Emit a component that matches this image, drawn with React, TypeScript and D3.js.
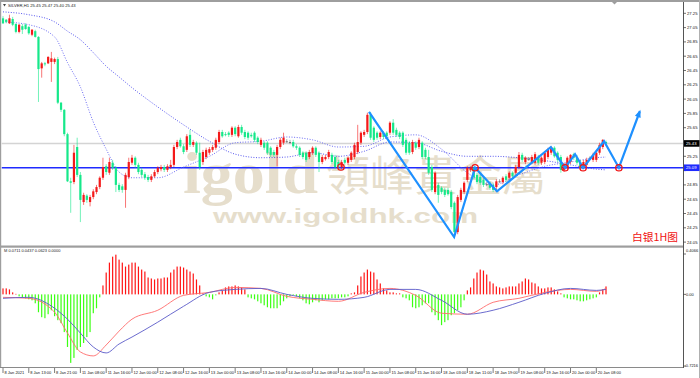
import React from 'react';
import * as d3 from 'd3';

const W = 700;
const H = 378;

// ---- OHLC data (SILVER H1) ----
const openP = [27.18,27.16,27.11,27.17,27.10,26.99,27.07,27.09,27.06,26.95,27.00,26.92,26.48,26.55,26.55,26.57,26.57,26.61,26.00,25.90,25.56,24.90,24.89,25.38,24.99,24.61,24.70,24.61,24.68,24.75,24.82,24.95,25.11,25.02,25.16,25.09,24.85,24.83,24.78,24.96,25.16,25.23,25.13,25.06,25.00,24.96,24.92,24.97,25.03,25.07,25.10,25.06,25.10,25.13,25.38,25.48,25.39,25.34,25.55,25.41,25.44,25.30,25.17,25.24,25.30,25.34,25.37,25.45,25.59,25.56,25.58,25.55,25.65,25.53,25.66,25.59,25.58,25.55,25.58,25.51,25.41,25.44,25.44,25.37,25.31,25.27,25.38,25.44,25.46,25.45,25.45,25.39,25.37,25.30,25.30,25.24,25.30,25.37,25.30,25.17,25.21,25.24,25.27,25.24,25.17,25.10,25.20,25.16,25.20,25.24,25.31,25.44,25.55,25.59,25.83,25.65,25.58,25.52,25.58,25.58,25.58,25.72,25.62,25.58,25.58,25.48,25.44,25.31,25.44,25.38,25.44,25.34,25.24,25.10,24.75,24.85,24.81,24.78,24.78,24.75,24.60,24.19,24.64,24.75,24.92,25.06,25.09,24.99,24.96,24.92,24.86,24.88,24.85,24.82,24.90,24.89,24.97,24.95,25.02,25.02,25.10,25.27,25.17,25.21,25.17,25.16,25.24,25.16,25.17,25.24,25.30,25.37,25.30,25.24,25.06,25.10,25.17,25.28,25.24,25.17,25.10,25.13,25.23,25.20,25.20,25.30,25.38,25.45];
const highP = [27.21,27.17,27.23,27.20,27.11,27.10,27.10,27.11,27.07,27.03,27.02,26.93,26.57,26.57,26.65,26.71,26.63,26.64,26.01,25.91,25.58,24.95,25.41,25.51,25.03,24.74,24.72,24.71,24.79,24.85,24.97,25.23,25.14,25.23,25.20,25.11,24.88,24.86,25.02,25.23,25.27,25.25,25.16,25.09,25.03,24.99,25.00,25.06,25.11,25.13,25.13,25.14,25.20,25.41,25.48,25.51,25.42,25.56,25.62,25.48,25.46,25.44,25.34,25.37,25.38,25.41,25.51,25.62,25.62,25.59,25.60,25.67,25.67,25.69,25.69,25.62,25.60,25.58,25.60,25.53,25.51,25.46,25.46,25.39,25.34,25.41,25.51,25.58,25.49,25.48,25.48,25.42,25.39,25.32,25.32,25.34,25.39,25.39,25.32,25.27,25.27,25.34,25.30,25.27,25.20,25.20,25.23,25.25,25.32,25.44,25.69,25.60,25.62,25.86,25.87,25.67,25.60,25.60,25.60,25.60,25.74,25.77,25.65,25.60,25.60,25.51,25.46,25.48,25.46,25.51,25.46,25.37,25.34,25.13,25.04,24.88,24.83,24.81,24.81,24.78,24.62,24.71,24.81,24.90,25.11,25.11,25.11,25.02,24.99,24.95,24.89,24.90,24.88,24.93,24.93,24.97,25.00,25.04,25.04,25.13,25.31,25.30,25.25,25.24,25.27,25.31,25.27,25.25,25.32,25.37,25.39,25.39,25.32,25.27,25.16,25.25,25.28,25.30,25.27,25.20,25.20,25.23,25.25,25.30,25.32,25.44,25.49,25.47];
const lowP = [27.10,27.11,27.10,27.07,26.97,26.97,26.96,27.02,26.95,26.93,26.91,26.01,26.35,26.51,26.54,26.29,26.54,25.98,25.87,25.53,24.89,24.46,24.86,24.96,24.33,24.57,24.60,24.55,24.65,24.72,24.79,24.92,24.99,24.99,25.06,24.75,24.75,24.74,24.53,24.93,25.13,25.09,25.00,24.96,24.92,24.89,24.89,24.95,25.00,25.04,25.03,25.03,25.07,25.10,25.35,25.37,25.28,25.31,25.38,25.38,25.27,25.06,25.13,25.21,25.27,25.31,25.34,25.42,25.51,25.53,25.52,25.52,25.53,25.51,25.55,25.49,25.48,25.51,25.45,25.42,25.38,25.34,25.27,25.24,25.24,25.11,25.35,25.41,25.44,25.42,25.37,25.34,25.24,25.21,25.17,25.21,25.27,25.24,25.03,25.14,25.19,25.21,25.14,25.07,25.07,25.07,25.13,25.13,25.17,25.21,25.28,25.41,25.52,25.56,25.48,25.45,25.48,25.49,25.49,25.51,25.55,25.55,25.52,25.49,25.38,25.27,25.27,25.28,25.34,25.35,25.21,25.21,24.99,24.75,24.72,24.60,24.72,24.68,24.70,24.51,24.14,24.16,24.61,24.72,24.89,25.03,24.93,24.86,24.85,24.82,24.83,24.78,24.75,24.76,24.88,24.86,24.89,24.92,24.95,24.99,25.07,25.17,25.14,25.19,25.14,25.13,25.13,25.13,25.14,25.21,25.27,25.23,25.17,25.02,25.03,25.07,25.14,25.20,25.13,25.07,25.07,25.10,25.20,25.17,25.17,25.27,25.35,25.40];
const closeP = [27.11,27.13,27.18,27.09,26.99,27.09,27.02,27.03,26.97,27.02,26.92,26.47,26.55,26.54,26.64,26.62,26.61,26.00,25.90,25.56,24.90,24.88,25.30,24.99,24.64,24.71,24.64,24.68,24.76,24.82,24.95,25.10,25.03,25.17,25.09,24.85,24.78,24.78,24.99,25.17,25.23,25.13,25.03,24.99,24.95,24.92,24.97,25.03,25.09,25.10,25.06,25.11,25.13,25.38,25.45,25.39,25.31,25.53,25.41,25.45,25.30,25.10,25.31,25.34,25.35,25.38,25.48,25.59,25.53,25.55,25.55,25.65,25.56,25.66,25.58,25.52,25.51,25.53,25.48,25.45,25.48,25.37,25.30,25.27,25.27,25.38,25.48,25.51,25.46,25.45,25.39,25.37,25.27,25.24,25.20,25.31,25.37,25.27,25.17,25.24,25.24,25.31,25.17,25.10,25.10,25.17,25.16,25.23,25.30,25.41,25.45,25.58,25.59,25.83,25.51,25.48,25.51,25.58,25.52,25.53,25.72,25.58,25.55,25.52,25.41,25.30,25.30,25.45,25.37,25.48,25.24,25.24,25.02,24.78,25.02,24.71,24.75,24.71,24.72,24.54,24.19,24.68,24.78,24.88,25.09,25.09,24.96,24.89,24.88,24.85,24.86,24.81,24.78,24.90,24.90,24.95,24.92,25.02,24.97,25.10,25.27,25.20,25.23,25.21,25.24,25.28,25.16,25.23,25.30,25.34,25.38,25.25,25.20,25.06,25.13,25.23,25.27,25.23,25.16,25.09,25.17,25.20,25.23,25.27,25.30,25.41,25.48,25.43];

// ---- MACD histogram (one value per bar) ----
const macdHist = [0.06,0.06,0.05,0.02,0.005,-0.02,-0.03,-0.04,-0.05,-0.06,-0.09,-0.18,-0.23,-0.24,-0.20,-0.16,-0.22,-0.26,-0.29,-0.38,-0.53,-0.69,-0.64,-0.56,-0.53,-0.49,-0.43,-0.38,-0.19,-0.14,-0.03,0.09,0.22,0.32,0.38,0.40,0.35,0.32,0.28,0.30,0.32,0.32,0.28,0.25,0.23,0.17,0.16,0.15,0.16,0.16,0.17,0.17,0.22,0.25,0.28,0.28,0.27,0.25,0.23,0.21,0.15,0.09,0.01,-0.02,-0.03,-0.05,-0.01,0.02,0.04,0.07,0.08,0.08,0.09,0.08,0.07,0.05,-0.03,-0.04,-0.05,-0.07,-0.09,-0.11,-0.13,-0.14,-0.14,-0.14,-0.11,-0.07,-0.04,-0.02,-0.01,-0.02,-0.04,-0.06,-0.09,-0.10,-0.08,-0.06,-0.08,-0.06,-0.05,-0.05,-0.04,-0.04,-0.04,-0.03,-0.03,-0.02,0.01,0.02,0.09,0.18,0.22,0.25,0.23,0.22,0.15,0.11,0.06,0.04,0.02,0.02,0.01,0.01,-0.03,-0.04,-0.06,-0.13,-0.14,-0.13,-0.11,-0.09,-0.09,-0.18,-0.21,-0.26,-0.31,-0.28,-0.26,-0.21,-0.19,-0.16,-0.13,-0.06,0.04,0.07,0.16,0.22,0.25,0.24,0.20,0.13,0.11,0.08,0.07,0.06,0.07,0.08,0.08,0.08,0.11,0.13,0.16,0.15,0.12,0.11,0.08,0.06,0.06,0.07,0.07,0.05,0.03,0.01,-0.03,-0.04,-0.05,-0.05,-0.06,-0.07,-0.07,-0.06,-0.05,-0.04,-0.03,0.02,0.05,0.08];

// ---- sampled indicator lines (bar index -> value) ----
const lineIdx = [0,8,16,20,24,28,32,36,40,48,56,64,72,80,88,96,104,112,120,128,136,144,152,160,168,176,184,187];
const maFast = [27.13,27.09,26.92,26.56,26.22,25.73,25.35,25.03,24.95,24.95,25.10,25.25,25.44,25.46,25.52,25.48,25.38,25.39,25.52,25.55,25.35,25.02,24.85,24.99,25.11,25.17,25.23,25.24];
const maSlow = [27.27,27.23,27.13,27.00,26.88,26.70,26.51,26.36,26.21,25.94,25.69,25.46,25.28,25.23,25.24,25.30,25.25,25.32,25.45,25.44,25.32,25.25,25.25,25.23,25.19,25.13,25.07,25.06];
const macdRed = [-0.03,-0.04,-0.18,-0.39,-0.58,-0.62,-0.51,-0.37,-0.25,-0.16,-0.01,0.02,0.07,0.06,-0.02,-0.05,-0.07,0.02,0.06,-0.01,-0.19,-0.20,-0.08,-0.04,0.02,0.05,0.03,0.06];
const macdBlue = [-0.04,-0.03,-0.14,-0.25,-0.39,-0.53,-0.59,-0.50,-0.43,-0.28,-0.12,0.02,0.05,0.06,0.00,-0.04,-0.05,-0.03,0.05,0.05,-0.06,-0.20,-0.16,-0.08,0.01,0.06,0.04,0.05];

// ---- drawings ----
const zigIdx = [113.5,139.9,146.4,153.2,169.9,174.3,177.4,179.9,186.4,191.0,197.5];
const zigPrice = [25.87,24.12,25.09,24.76,25.38,25.09,25.28,25.09,25.46,25.09,25.88];
const circleIdx = [104.8,146.4,174.3,179.9,191.0];
const circlePrice = [25.10,25.09,25.09,25.09,25.09];
const supportPrice = 25.09;
const lastPrice = 25.43;

// ---- axes ----
const priceTicks = [27.25,27.05,26.85,26.65,26.45,26.25,26.05,25.85,25.65,25.45,25.25,25.05,24.85,24.65,24.45,24.25,24.05];
const macdTicks = [0.4066, 0.0, -0.7216];
const macdTickLabels = ['0.4066', '0.00', '-0.7216'];
const timeLabels = ['8 Jan 2021','8 Jan 13:00','8 Jan 21:00','11 Jan 08:00','11 Jan 16:00','12 Jan 00:00','12 Jan 08:00','12 Jan 16:00','13 Jan 00:00','13 Jan 08:00','13 Jan 16:00','14 Jan 00:00','14 Jan 08:00','14 Jan 16:00','15 Jan 00:00','15 Jan 08:00','15 Jan 16:00','18 Jan 03:00','18 Jan 11:00','18 Jan 19:00','19 Jan 08:00','19 Jan 16:00','20 Jan 00:00','20 Jan 08:00'];
const labelEvery = 8;

const UP = '#F41A1A';
const DOWN = '#16E88A';
const DOJI = '#6E6E6E';
const FONT = '"Liberation Sans", Arial, sans-serif';

export default function App() {
  const N = closeP.length;
  const x = d3.scaleLinear().domain([0, N - 1]).range([3, 606]);
  const y = d3.scaleLinear().domain([27.25, 24.05]).range([13.3, 242.1]);
  const ym = d3.scaleLinear().domain([0.4066, -0.7216]).range([254, 366]);

  const mk = (ys: (v: number) => number) =>
    d3.line<number>().x((_, k) => x(lineIdx[k])).y((v) => ys(v)).curve(d3.curveMonotoneX);
  const fastPath = mk(y)(maFast) || '';
  const slowPath = mk(y)(maSlow) || '';
  const redPath = mk(ym)(macdRed) || '';
  const bluePath = mk(ym)(macdBlue) || '';
  const zigPath = d3.line<number>().x((_, k) => x(zigIdx[k])).y((v) => y(v))(zigPrice) || '';

  // arrow head at the end of zigzag
  const n = zigIdx.length;
  const tx = x(zigIdx[n - 1]);
  const ty = y(zigPrice[n - 1]);
  const px = x(zigIdx[n - 2]);
  const py = y(zigPrice[n - 2]);
  const ang = Math.atan2(ty - py, tx - px);
  const al = 6, aw = 3;
  const bx = tx - al * Math.cos(ang);
  const by = ty - al * Math.sin(ang);
  const arrow = `${tx + 1.5 * Math.cos(ang)},${ty + 1.5 * Math.sin(ang)} ${bx + aw * Math.sin(ang)},${by - aw * Math.cos(ang)} ${bx - aw * Math.sin(ang)},${by + aw * Math.cos(ang)}`;

  const hidden = (t: number) =>
    Math.abs(y(t) - y(lastPrice)) < 6 || Math.abs(y(t) - y(supportPrice)) < 6;

  return (
    <div style={{ position: 'absolute', left: 0, top: 0 }}>
      <svg width={W} height={H} viewBox={`0 0 ${W} ${H}`} style={{ display: 'block', background: '#fff' }}>
        <defs>
          <clipPath id="clipMain">
            <rect x={1.5} y={2} width={681.5} height={244} />
          </clipPath>
          <clipPath id="clipMacd">
            <rect x={1.5} y={248} width={681.5} height={119} />
          </clipPath>
        </defs>
        <rect x={0} y={0} width={W} height={H} fill="#fff" />

        {/* main panel */}
        <g clipPath="url(#clipMain)">
          {/* watermark */}
          <text x={183} y={193} fontFamily='"Liberation Serif", serif' fontWeight={700} fontSize={60} fill="#E6DECC" textLength={135} lengthAdjust="spacingAndGlyphs">igold</text>
          <text x={326} y={191} fontFamily='"Noto Sans CJK TC", sans-serif' fontSize={42} fill="#E6DECC" textLength={220} lengthAdjust="spacingAndGlyphs">領峰貴金屬</text>
          <text x={213} y={223} fontFamily='"Liberation Sans", Arial, sans-serif' fontWeight={700} fontSize={21} fill="#E6DECC" textLength={265} lengthAdjust="spacingAndGlyphs">www.igoldhk.com</text>

          {/* bid line and support line */}
          <line x1={1.5} x2={683} y1={y(lastPrice)} y2={y(lastPrice)} stroke="#D4D4D4" strokeWidth={1.5} />
          <line x1={1.5} x2={683} y1={y(supportPrice)} y2={y(supportPrice)} stroke="#1F2BFF" strokeWidth={1.5} />

          {/* moving averages */}
          <path d={slowPath} fill="none" stroke="#5656EE" strokeWidth={1} strokeDasharray="1,1.6" />
          <path d={fastPath} fill="none" stroke="#6A6AF2" strokeWidth={1} strokeDasharray="1,1.6" />

          {/* candles */}
          {closeP.map((c, i) => {
            const o = openP[i];
            const col = c > o ? UP : c < o ? DOWN : DOJI;
            const cx = x(i);
            const top = y(Math.max(o, c));
            const bot = y(Math.min(o, c));
            return (
              <g key={i}>
                <line x1={cx} x2={cx} y1={y(highP[i])} y2={y(lowP[i])} stroke={col} strokeOpacity={0.6} strokeWidth={1} />
                <rect x={cx - 1.1} y={top} width={2.2} height={Math.max(1, bot - top)} fill={col} />
              </g>
            );
          })}

          {/* zigzag */}
          <path d={zigPath} fill="none" stroke="#1E90FF" strokeWidth={2.2} strokeLinejoin="miter" />
          <polygon points={arrow} fill="#1E90FF" />
          {circleIdx.map((ci, k) => (
            <circle key={k} cx={x(ci)} cy={y(circlePrice[k])} r={3.2} fill="none" stroke="#F01818" strokeWidth={1.3} />
          ))}

          <text x={632} y={241} fontFamily='"Noto Sans CJK SC", sans-serif' fontSize={10.5} fill="#F01010" textLength={46} lengthAdjust="spacingAndGlyphs">白银1H图</text>
        </g>

        {/* title */}
        <polygon points="3,4 6,4 4.5,6.5" fill="#444" />
        <text x={8} y={7} fontFamily={FONT} fontSize={4.2} fill="#222">SILVER,H1  25.45 25.47 25.40 25.43</text>

        {/* macd panel */}
        <g clipPath="url(#clipMacd)">
          {macdHist.map((v, i) => (
            <rect key={i} x={x(i) - 0.6} y={Math.min(ym(v), ym(0))} width={1.2} height={Math.max(0.6, Math.abs(ym(v) - ym(0)))} fill={v >= 0 ? '#FF1414' : '#3CFF14'} />
          ))}
          <path d={redPath} fill="none" stroke="#FF6B6B" strokeWidth={0.9} />
          <path d={bluePath} fill="none" stroke="#5A5AC8" strokeWidth={0.9} />
        </g>
        <text x={4} y={252} fontFamily={FONT} fontSize={4} fill="#222">M 0.0711 0.0437 0.0623 0.0000</text>

        {/* frames */}
        <rect x={0} y={0} width={W} height={2} fill="#9E9E9E" />
        <rect x={0} y={0} width={1.2} height={368} fill="#9E9E9E" />
        <rect x={0} y={245.5} width={683.5} height={2.2} fill="#9E9E9E" />
        <line x1={0} x2={683.5} y1={367.5} y2={367.5} stroke="#8A8A8A" strokeWidth={1} />
        <line x1={683.5} x2={683.5} y1={2} y2={368} stroke="#555" strokeWidth={1} />
        <line x1={699.5} x2={699.5} y1={0} y2={378} stroke="#B0B0B0" strokeWidth={1} />
        <polygon points="612,2 617,2 614.5,4.5" fill="#9E9E9E" />

        {/* price axis */}
        {priceTicks.map((t) => (
          <g key={t}>
            <line x1={683.5} x2={686} y1={y(t)} y2={y(t)} stroke="#333" strokeWidth={0.7} />
            {!hidden(t) && (
              <text x={687} y={y(t) + 1.4} fontFamily={FONT} fontSize={4.2} fill="#111">{t.toFixed(2)}</text>
            )}
          </g>
        ))}
        <rect x={684} y={y(lastPrice) - 3.3} width={15.5} height={6.6} fill="#000" />
        <text x={686} y={y(lastPrice) + 1.5} fontFamily={FONT} fontSize={4.2} fill="#fff">{lastPrice.toFixed(2)}</text>
        <rect x={684} y={y(supportPrice) - 3.3} width={15.5} height={6.6} fill="#1F2BFF" />
        <text x={686} y={y(supportPrice) + 1.5} fontFamily={FONT} fontSize={4.2} fill="#fff">{supportPrice.toFixed(2)}</text>

        {/* macd axis */}
        {macdTicks.map((t, k) => (
          <g key={k}>
            <line x1={683.5} x2={686} y1={ym(t)} y2={ym(t)} stroke="#333" strokeWidth={0.7} />
            <text x={k === 2 ? 684.5 : 686} y={k === 0 ? ym(t) - 2 : k === 2 ? ym(t) + 0.5 : ym(t) + 1.4} fontFamily={FONT} fontSize={4} fill="#111">{macdTickLabels[k]}</text>
          </g>
        ))}

        {/* time axis */}
        {timeLabels.map((lab, k) => {
          const xx = x(k * labelEvery);
          return (
            <g key={k}>
              <line x1={xx} x2={xx} y1={368} y2={373} stroke="#444" strokeWidth={0.7} />
              <text x={xx + 1.5} y={374} fontFamily={FONT} fontSize={4} fill="#111">{lab}</text>
            </g>
          );
        })}
      </svg>
    </div>
  );
}
